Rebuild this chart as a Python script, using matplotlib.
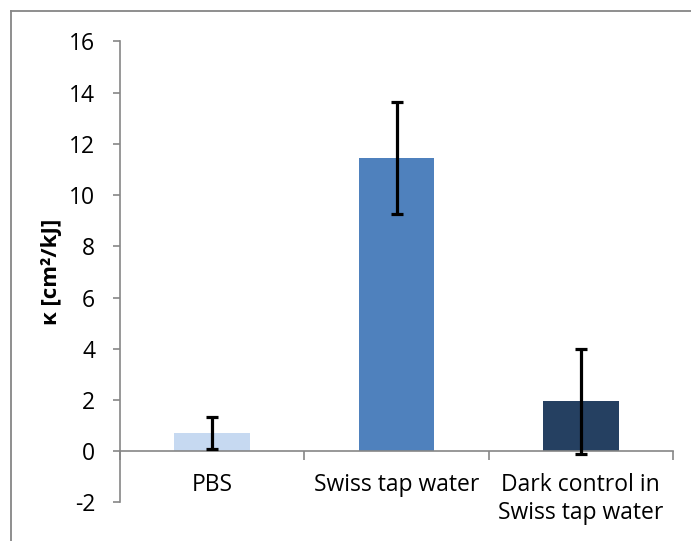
import matplotlib
matplotlib.use("Agg")
import matplotlib.pyplot as plt
from matplotlib.lines import Line2D
import numpy as np

plt.rcParams['font.family'] = ['Open Sans', 'DejaVu Sans']
plt.rcParams['axes.unicode_minus'] = False

categories = ["PBS", "Swiss tap water", "Dark control in\nSwiss tap water"]
kappa = [0.71, 11.45, 1.95]
kappa_err = [0.63, 2.2, 2.04]
bar_colors = ["#c6d9f1", "#4f81bd", "#254061"]

fig = plt.figure(figsize=(6.91, 5.41), dpi=100)
ax = fig.add_axes([0.1737, 0.0712, 0.8003, 0.8521])

x = np.arange(len(categories))
ax.bar(x, kappa, width=0.41, color=bar_colors, zorder=2)
ax.errorbar(x, kappa, yerr=kappa_err, fmt="none", ecolor="black",
            elinewidth=2.3, capsize=4.3, capthick=2.3, zorder=3)

grey = "#868686"
ax.set_xlim(-0.5, len(categories) - 0.5)
ax.set_ylim(-2, 16)
ax.set_yticks(range(-2, 17, 2))
ax.tick_params(axis="y", direction="out", length=5, width=1.2, color=grey,
               labelsize=16.5, pad=13)

# category boundaries get the tick marks, labels sit at the centres
ax.set_xticks(np.arange(-0.5, len(categories), 1.0))
ax.set_xticklabels([])
ax.set_xticks(x, minor=True)
ax.set_xticklabels(categories, minor=True, linespacing=1.5)
ax.tick_params(axis="x", which="major", direction="out", length=6.5,
               width=1.2, color=grey)
ax.tick_params(axis="x", which="minor", length=0, pad=16, labelsize=16.5)

for side in ("top", "right"):
    ax.spines[side].set_visible(False)
ax.spines["bottom"].set_position(("data", 0))
for side in ("left", "bottom"):
    ax.spines[side].set_color(grey)
    ax.spines[side].set_linewidth(1.2)

ax.set_ylabel("κ [cm²/kJ]", fontsize=16, fontweight="bold", labelpad=5)

# outer chart frame
fx = 11 / 691
fy = 1 - 11 / 541
fig.add_artist(Line2D([fx, fx], [0, fy], transform=fig.transFigure,
                      color=grey, lw=1.3))
fig.add_artist(Line2D([fx, 1], [fy, fy], transform=fig.transFigure,
                      color=grey, lw=1.3))

fig.savefig("out.png", dpi=100)
